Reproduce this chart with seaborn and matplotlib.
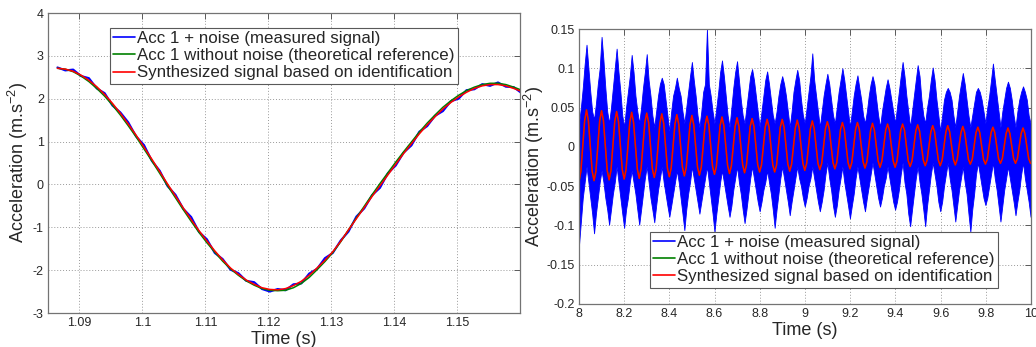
import numpy as np
import matplotlib
matplotlib.use("Agg")
import matplotlib.pyplot as plt
import seaborn as sns
from matplotlib.lines import Line2D

# ---------------- data: left panel (zoom on one oscillation) ----------------
t0_left, dt_left = 1.0865, 0.00125          # sample times: t0 + n*dt
synth_left = [2.71, 2.69, 2.64, 2.55, 2.43, 2.28, 2.10, 1.89, 1.66, 1.41,
              1.15, 0.87, 0.59, 0.30, 0.01, -0.27, -0.55, -0.82, -1.08, -1.32,
              -1.55, -1.76, -1.95, -2.10, -2.23, -2.33, -2.41, -2.45, -2.46, -2.43,
              -2.36, -2.26, -2.12, -1.95, -1.77, -1.57, -1.33, -1.06, -0.80, -0.54,
              -0.28, -0.03, 0.22, 0.47, 0.72, 0.95, 1.18, 1.39, 1.58, 1.76,
              1.91, 2.04, 2.15, 2.24, 2.30, 2.33, 2.33, 2.30, 2.24, 2.17]
ref_left = [2.71, 2.69, 2.63, 2.53, 2.40, 2.24, 2.06, 1.85, 1.62, 1.37,
            1.11, 0.83, 0.55, 0.26, -0.03, -0.31, -0.59, -0.86, -1.12, -1.36,
            -1.58, -1.79, -1.97, -2.12, -2.25, -2.35, -2.43, -2.47, -2.48, -2.47,
            -2.41, -2.31, -2.17, -1.99, -1.80, -1.59, -1.34, -1.06, -0.78, -0.51,
            -0.24, 0.02, 0.27, 0.52, 0.76, 0.99, 1.22, 1.43, 1.62, 1.80,
            1.95, 2.08, 2.19, 2.27, 2.33, 2.36, 2.36, 2.33, 2.27, 2.20]
meas_left = [2.73, 2.66, 2.68, 2.53, 2.48, 2.24, 2.13, 1.84, 1.68, 1.45,
             1.12, 0.92, 0.55, 0.32, -0.04, -0.24, -0.57, -0.76, -1.11, -1.28,
             -1.60, -1.74, -1.99, -2.07, -2.25, -2.28, -2.44, -2.50, -2.44, -2.47,
             -2.33, -2.31, -2.08, -1.97, -1.72, -1.60, -1.31, -1.10, -0.75, -0.56,
             -0.25, -0.08, 0.26, 0.44, 0.74, 0.91, 1.23, 1.36, 1.60, 1.71,
             1.94, 2.00, 2.20, 2.22, 2.34, 2.30, 2.38, 2.28, 2.27, 2.13]

# ---------------- data: right panel (8 s to 10 s) ----------------
# synthesized / theoretical signal, in 1e-3 m.s^-2, 8 samples per cycle from t = 8 s
red_step = 0.008325
synth_right_milli = [
    -44, -31, 1, 33, 47, 33, 1, -31,   -43, -31, 1, 33, 46, 33, 1, -30,
    -42, -30, 1, 32, 45, 32, 1, -29,   -41, -29, 1, 31, 44, 31, 1, -28,
    -40, -28, 1, 31, 43, 31, 1, -28,   -39, -28, 1, 30, 42, 30, 1, -27,
    -38, -27, 1, 29, 41, 29, 1, -26,   -37, -26, 1, 28, 40, 28, 1, -26,
    -36, -26, 1, 28, 39, 28, 1, -25,   -35, -25, 1, 27, 38, 27, 1, -24,
    -34, -24, 1, 26, 37, 26, 1, -23,   -33, -23, 1, 26, 36, 26, 1, -23,
    -32, -23, 1, 25, 35, 25, 1, -23,   -32, -23, 1, 25, 35, 25, 1, -22,
    -31, -22, 1, 24, 34, 24, 1, -21,   -30, -21, 1, 23, 33, 23, 1, -21,
    -29, -21, 1, 23, 32, 23, 1, -20,   -28, -20, 1, 22, 31, 22, 1, -20,
    -28, -20, 1, 22, 31, 22, 1, -19,   -27, -19, 1, 21, 30, 21, 1, -18,
    -26, -18, 1, 21, 29, 21, 1, -18,   -26, -18, 1, 21, 29, 21, 1, -18,
    -25, -18, 1, 20, 28, 20, 1, -17,   -24, -17, 1, 19, 27, 19, 1, -17,
    -24, -17, 1, 19, 27, 19, 1, -16,   -23, -16, 1, 18, 26, 18, 1, -16,
    -22, -16, 1, 18, 25, 18, 1, -16,   -22, -16, 1, 18, 25, 18, 1, -15,
    -21, -15, 1, 17, 24, 17, 1, -15,   -21, -15, 1, 17, 24, 17, 1, -15,
    -21]
# measured (noisy) signal: upper / lower envelope, 1e-3 m.s^-2, same time grid
meas_upper_milli = [
    30, 50, 75, 105, 130, 100, 70, 45,   35, 55, 80, 100, 140, 110, 75, 45,
    30, 50, 75, 100, 125, 95, 70, 40,    25, 50, 70, 90, 117, 95, 65, 45,
    30, 50, 75, 95, 118, 85, 65, 40,     25, 45, 65, 80, 88, 80, 60, 40,
    20, 45, 65, 75, 88, 75, 65, 45,      30, 50, 70, 90, 108, 85, 65, 40,
    25, 45, 70, 80, 150, 80, 65, 45,     30, 50, 70, 95, 110, 90, 65, 40,
    25, 50, 75, 95, 109, 85, 60, 40,     30, 50, 70, 90, 99, 85, 65, 45,
    25, 45, 65, 85, 96, 80, 60, 40,      30, 45, 65, 80, 90, 80, 65, 45,
    25, 45, 70, 85, 98, 85, 60, 40,      30, 50, 70, 90, 119, 85, 65, 45,
    25, 45, 65, 80, 93, 80, 60, 40,      30, 50, 70, 85, 100, 85, 65, 45,
    25, 45, 65, 80, 91, 75, 60, 40,      30, 45, 65, 80, 90, 80, 60, 40,
    25, 45, 60, 75, 86, 75, 60, 45,      30, 50, 70, 90, 108, 90, 65, 45,
    25, 45, 65, 85, 104, 90, 60, 40,     30, 50, 65, 85, 101, 85, 60, 40,
    20, 40, 60, 70, 75, 70, 60, 40,      25, 45, 65, 80, 94, 80, 60, 40,
    25, 40, 55, 70, 75, 70, 60, 45,      30, 50, 65, 85, 106, 85, 65, 45,
    25, 45, 60, 75, 83, 75, 60, 40,      25, 45, 60, 70, 77, 70, 60, 40,
    30]
meas_lower_milli = [
    -125, -95, -65, -45, -25, -45, -65, -85,   -110, -85, -65, -45, -30, -45, -65, -80,
    -99, -80, -60, -45, -25, -45, -65, -85,    -103, -80, -65, -45, -30, -45, -60, -80,
    -99, -80, -60, -40, -25, -45, -65, -80,    -96, -75, -55, -40, -25, -45, -60, -75,
    -89, -75, -60, -45, -30, -45, -65, -85,    -106, -80, -60, -45, -25, -40, -55, -70,
    -85, -70, -55, -40, -25, -45, -65, -85,    -108, -85, -65, -45, -30, -45, -60, -75,
    -89, -75, -55, -40, -25, -45, -60, -80,    -97, -80, -60, -40, -25, -40, -55, -70,
    -82, -70, -55, -45, -30, -45, -60, -80,    -103, -80, -60, -40, -25, -40, -55, -70,
    -87, -70, -55, -40, -25, -40, -50, -65,    -76, -65, -50, -40, -25, -40, -55, -70,
    -82, -70, -55, -35, -20, -40, -55, -75,    -89, -75, -55, -40, -25, -45, -60, -75,
    -91, -75, -60, -40, -25, -40, -55, -70,    -82, -65, -50, -35, -20, -35, -50, -65,
    -76, -65, -50, -40, -25, -40, -55, -70,    -80, -70, -55, -35, -20, -45, -60, -85,
    -101, -80, -60, -40, -25, -45, -60, -80,   -101, -75, -55, -35, -20, -35, -50, -70,
    -82, -70, -50, -35, -20, -40, -55, -75,    -95, -75, -55, -40, -25, -45, -60, -85,
    -108, -80, -60, -35, -20, -35, -50, -65,   -74, -65, -50, -35, -20, -40, -55, -75,
    -95, -75, -55, -40, -25, -40, -55, -70,    -87, -70, -55, -35, -20, -40, -55, -70,
    -89]

labels = ["Acc 1 + noise (measured signal)",
          "Acc 1 without noise (theoretical reference)",
          "Synthesized signal based on identification"]
c_meas, c_ref, c_syn = "#0000ff", "#008000", "#ff0000"

left_xticks = [1.09, 1.10, 1.11, 1.12, 1.13, 1.14, 1.15]
left_xticklabels = ["1.09", "1.1", "1.11", "1.12", "1.13", "1.14", "1.15"]
left_yticks = [-3, -2, -1, 0, 1, 2, 3, 4]
right_xticks = [8, 8.2, 8.4, 8.6, 8.8, 9, 9.2, 9.4, 9.6, 9.8, 10]
right_xticklabels = ["8", "8.2", "8.4", "8.6", "8.8", "9", "9.2", "9.4", "9.6", "9.8", "10"]
right_yticks = [-0.2, -0.15, -0.1, -0.05, 0, 0.05, 0.1, 0.15]
right_yticklabels = ["-0.2", "-0.15", "-0.1", "-0.05", "0", "0.05", "0.1", "0.15"]

# ---------------- figure ----------------
sns.set_style("white")
plt.rcParams["font.family"] = ["Liberation Sans", "DejaVu Sans"]
plt.rcParams["mathtext.fontset"] = "custom"
plt.rcParams["mathtext.rm"] = "Liberation Sans"
plt.rcParams["mathtext.it"] = "Liberation Sans"

fig = plt.figure(figsize=(10.36, 3.47), dpi=100)
axL = fig.add_axes([48 / 1036, 1 - 313 / 347, (520 - 48) / 1036, 300 / 347])
axR = fig.add_axes([579 / 1036, 1 - 304 / 347, (1031 - 579) / 1036, 275 / 347])

# left panel
t_left = t0_left + dt_left * np.arange(len(synth_left))
sns.lineplot(x=t_left, y=meas_left, ax=axL, color=c_meas, lw=1.5, estimator=None, sort=False)
sns.lineplot(x=t_left, y=ref_left, ax=axL, color=c_ref, lw=1.1, estimator=None, sort=False)
sns.lineplot(x=t_left, y=synth_left, ax=axL, color=c_syn, lw=1.1, estimator=None, sort=False)

# right panel
t_right = 8.0 + red_step * np.arange(len(synth_right_milli))
up = np.array(meas_upper_milli) * 1e-3
lo = np.array(meas_lower_milli) * 1e-3
axR.fill_between(t_right, lo, up, color=c_meas, lw=0.6, edgecolor=c_meas)
syn_r = np.array(synth_right_milli) * 1e-3
sns.lineplot(x=t_right, y=syn_r, ax=axR, color=c_ref, lw=1.1, estimator=None, sort=False)
sns.lineplot(x=t_right, y=syn_r, ax=axR, color=c_syn, lw=1.1, estimator=None, sort=False)

def style(ax, xt, xtl, yt, ytl, xlim, ylim, ylab_x):
    ax.set_xlim(*xlim)
    ax.set_ylim(*ylim)
    ax.set_xticks(xt)
    ax.set_xticklabels(xtl)
    ax.set_yticks(yt)
    ax.set_yticklabels(ytl)
    ax.grid(True, color="0.6", lw=0.7, ls=(0, (1, 2)))
    ax.tick_params(direction="in", length=4, width=0.7, color="0.35", labelsize=9,
                   top=True, right=True, pad=3)
    for s in ax.spines.values():
        s.set_color("0.45")
        s.set_linewidth(0.9)
    ax.set_xlabel("Time (s)", fontsize=13, labelpad=1)
    ax.set_ylabel("Acceleration (m.s$^{-2}$)", fontsize=13)
    ax.yaxis.set_label_coords(ylab_x, 0.5)

style(axL, left_xticks, left_xticklabels, left_yticks, [str(v) for v in left_yticks],
      (1.085, 1.16), (-3, 4), -0.038)
style(axR, right_xticks, right_xticklabels, right_yticks, right_yticklabels,
      (8, 10), (-0.2, 0.15), -0.073)

handles = [Line2D([], [], color=c, lw=1.2) for c in (c_meas, c_ref, c_syn)]
for ax, anchor in ((axL, (0.131, 0.95)), (axR, (0.157, 0.262))):
    if ax.get_legend() is not None:
        ax.get_legend().remove()
    leg = ax.legend(handles, labels, loc="upper left", bbox_to_anchor=anchor,
                    fontsize=12.2, frameon=True, fancybox=False, framealpha=1,
                    edgecolor="0.35", handlelength=1.3, handletextpad=0.1,
                    labelspacing=0.12, borderpad=0.2, borderaxespad=0)
    leg.get_frame().set_linewidth(0.8)

fig.savefig("out.png", dpi=100)
